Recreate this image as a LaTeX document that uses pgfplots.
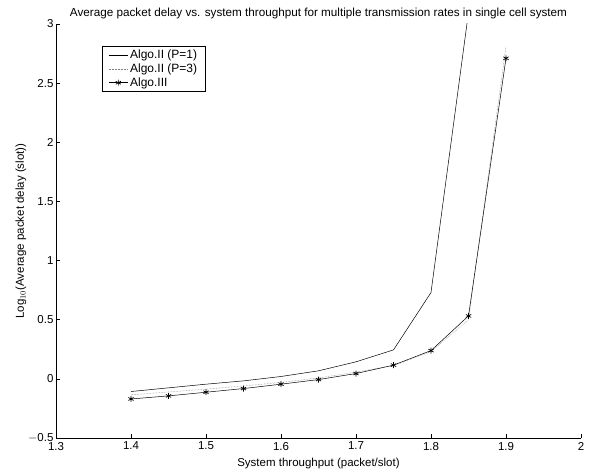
\documentclass[border=0pt]{standalone}
\usepackage{pgfplots}
\pgfplotsset{compat=1.18}
\usepackage{fontspec}
\setmainfont{Liberation Sans}
\begin{document}
\begin{tikzpicture}
\begin{axis}[
  scale only axis,
  width=525pt, height=414pt,
  at={(0pt,0pt)}, anchor=south west,
  xmin=1.3, xmax=2, ymin=-0.5, ymax=3,
  axis x line*=bottom, axis y line*=left,
  axis line style={line width=0.6pt, -},
  xtick={1.3,1.4,...,2.0},
  ytick={-0.5,0,0.5,1,1.5,2,2.5,3},
  tick align=inside,
  major tick length=4pt,
  tick style={line width=0.5pt, black},
  xticklabels={1.3,1.4,1.5,1.6,1.7,1.8,1.9,2},
  yticklabels={$-$0.5,0,0.5,1,1.5,2,2.5,3},
  tick label style={font=\fontsize{11.5}{13}\selectfont},
  xticklabel style={yshift=-0.5pt},
  yticklabel style={xshift=1pt},
  title={Average packet delay vs. system throughput for multiple transmission rates in single cell system},
  title style={font=\fontsize{11.7}{13}\selectfont, yshift=-4pt},
  xlabel={System throughput (packet/slot)},
  ylabel={Log$_{10}$(Average packet delay (slot))},
  label style={font=\fontsize{11.5}{13}\selectfont},
  xlabel style={yshift=-1pt},
  ylabel style={yshift=-5pt},
  clip=true,
  legend style={at={(0.088,0.946)}, anchor=north west, font=\fontsize{12}{13}\selectfont,
    draw=black, line width=0.8pt, inner xsep=6pt, inner ysep=1.5pt, row sep=-0.5pt,
    /tikz/every even column/.append style={column sep=5pt}},
  legend image code/.code={\draw[#1] (0cm,0cm) -- (19pt,0cm); \draw[#1, only marks] plot coordinates {(9.5pt,0cm)};},
  legend cell align=left,
]
\addplot[black, line width=0.5pt, mark=none] coordinates {
 (1.4,-0.107) (1.45,-0.076) (1.5,-0.045) (1.55,-0.017) (1.6,0.02)
 (1.65,0.068) (1.7,0.144) (1.75,0.245) (1.8,0.73) (1.85,3.1)};
\addlegendentry{Algo.II (P=1)}
\addplot[gray, densely dotted, line width=0.5pt, mark=none] coordinates {
 (1.4,-0.135) (1.45,-0.111) (1.5,-0.087) (1.55,-0.060) (1.6,-0.03)
 (1.65,0.008) (1.7,0.057) (1.75,0.112) (1.8,0.23) (1.85,0.50) (1.9,2.81)};
\addlegendentry{Algo.II (P=3)}
\addplot[black, line width=0.5pt, mark=asterisk, mark size=3pt, mark options={solid, line width=0.7pt}] coordinates {
 (1.4,-0.17) (1.45,-0.144) (1.5,-0.113) (1.55,-0.082) (1.6,-0.045)
 (1.65,-0.006) (1.7,0.045) (1.75,0.116) (1.8,0.239) (1.85,0.532) (1.9,2.71)};
\addlegendentry{Algo.III}
\end{axis}
\path[use as bounding box] (-56pt,-34pt) rectangle (543pt,438pt);
\end{tikzpicture}
\end{document}
